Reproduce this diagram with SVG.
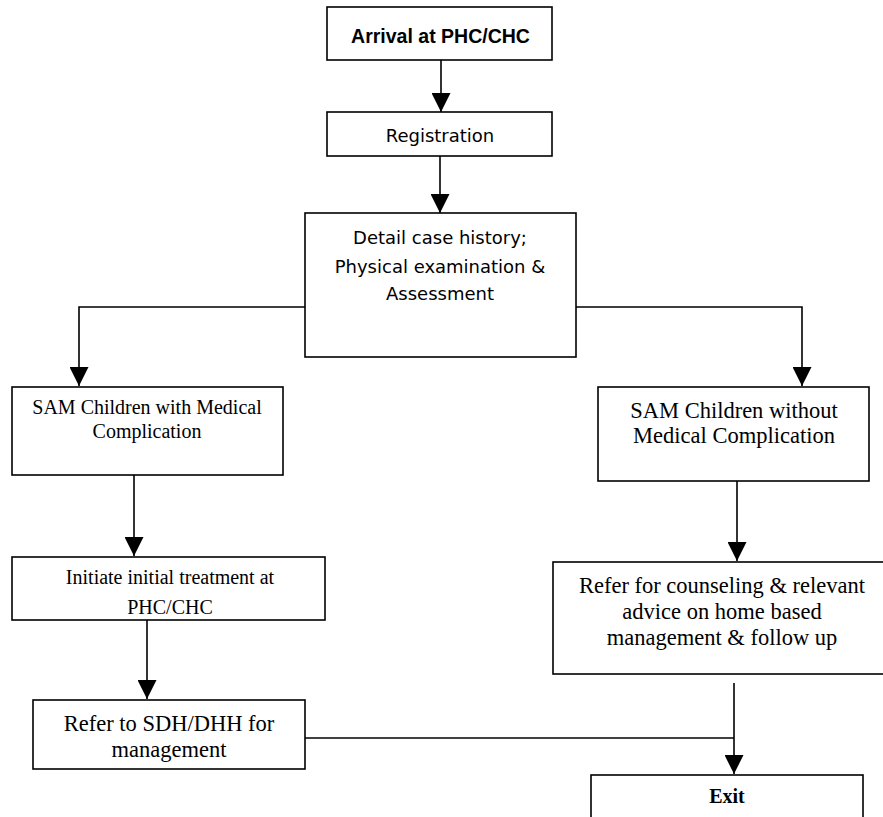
<svg xmlns="http://www.w3.org/2000/svg" width="883" height="817" viewBox="0 0 883 817">
  <style>
    .box { fill: #ffffff; stroke: #000000; stroke-width: 1.6; }
    .conn { fill: none; stroke: #000000; stroke-width: 1.6; }
    .comic { font-family: "Comic Sans MS", "DejaVu Sans", sans-serif; font-size: 18px; fill: #000; text-anchor: middle; }
    .times { font-family: "Liberation Serif", "Times New Roman", serif; fill: #000; text-anchor: middle; }
    .arial { font-family: "Liberation Sans", Arial, sans-serif; font-weight: bold; font-size: 19.5px; fill: #000; text-anchor: middle; }
  </style>
  <defs>
    <marker id="arrow" markerUnits="userSpaceOnUse" markerWidth="19" markerHeight="19" refX="19" refY="9.5" orient="auto" viewBox="0 0 19 19">
      <path d="M0,0 L19,9.5 L0,19 z" fill="#000000"/>
    </marker>
  </defs>
  <rect x="0" y="0" width="883" height="817" fill="#ffffff"/>

  <g id="connectors">
    <path class="conn" d="M441,60 V112" marker-end="url(#arrow)"/>
    <path class="conn" d="M440,156 V213" marker-end="url(#arrow)"/>
    <path class="conn" d="M305,307 H79 V386" marker-end="url(#arrow)"/>
    <path class="conn" d="M576,307 H802 V386" marker-end="url(#arrow)"/>
    <path class="conn" d="M134,475 V556" marker-end="url(#arrow)"/>
    <path class="conn" d="M737,481 V561" marker-end="url(#arrow)"/>
    <path class="conn" d="M147,620 V699" marker-end="url(#arrow)"/>
    <path class="conn" d="M734,683 V774" marker-end="url(#arrow)"/>
    <path class="conn" d="M305,738 H734"/>
  </g>

  <g id="arrival">
    <rect class="box" x="327" y="7" width="225" height="53"/>
    <text class="arial" x="440.5" y="43">Arrival at PHC/CHC</text>
  </g>

  <g id="registration">
    <rect class="box" x="327" y="112" width="225" height="44"/>
    <text class="comic" x="440" y="142">Registration</text>
  </g>

  <g id="assessment">
    <rect class="box" x="305" y="213" width="271" height="144"/>
    <text class="comic" x="440" y="244">Detail case history;</text>
    <text class="comic" x="440" y="273">Physical examination &amp;</text>
    <text class="comic" x="440" y="300">Assessment</text>
  </g>

  <g id="sam-with">
    <rect class="box" x="12" y="387" width="271" height="88"/>
    <text class="times" font-size="20" x="147" y="414">SAM Children with Medical</text>
    <text class="times" font-size="20" x="147" y="438">Complication</text>
  </g>

  <g id="sam-without">
    <rect class="box" x="598" y="387" width="271" height="94"/>
    <text class="times" font-size="22.5" x="734" y="418">SAM Children without</text>
    <text class="times" font-size="22.5" x="734" y="443">Medical Complication</text>
  </g>

  <g id="initiate">
    <rect class="box" x="12" y="557" width="313" height="63"/>
    <text class="times" font-size="20" x="170" y="584">Initiate initial treatment at</text>
    <text class="times" font-size="20" x="170" y="614">PHC/CHC</text>
  </g>

  <g id="counseling">
    <rect class="box" x="553" y="562" width="338" height="112"/>
    <text class="times" font-size="22.5" x="722" y="593">Refer for counseling &amp; relevant</text>
    <text class="times" font-size="22.5" x="722" y="619">advice on home based</text>
    <text class="times" font-size="22.5" x="722" y="645">management &amp; follow up</text>
  </g>

  <g id="refer-sdh">
    <rect class="box" x="33" y="700" width="272" height="69"/>
    <text class="times" font-size="22.5" x="169" y="731">Refer to SDH/DHH for</text>
    <text class="times" font-size="22.5" x="169" y="757">management</text>
  </g>

  <g id="exit">
    <rect class="box" x="591" y="775" width="272" height="60"/>
    <text class="times" font-size="20" font-weight="bold" x="727" y="803">Exit</text>
  </g>
</svg>
